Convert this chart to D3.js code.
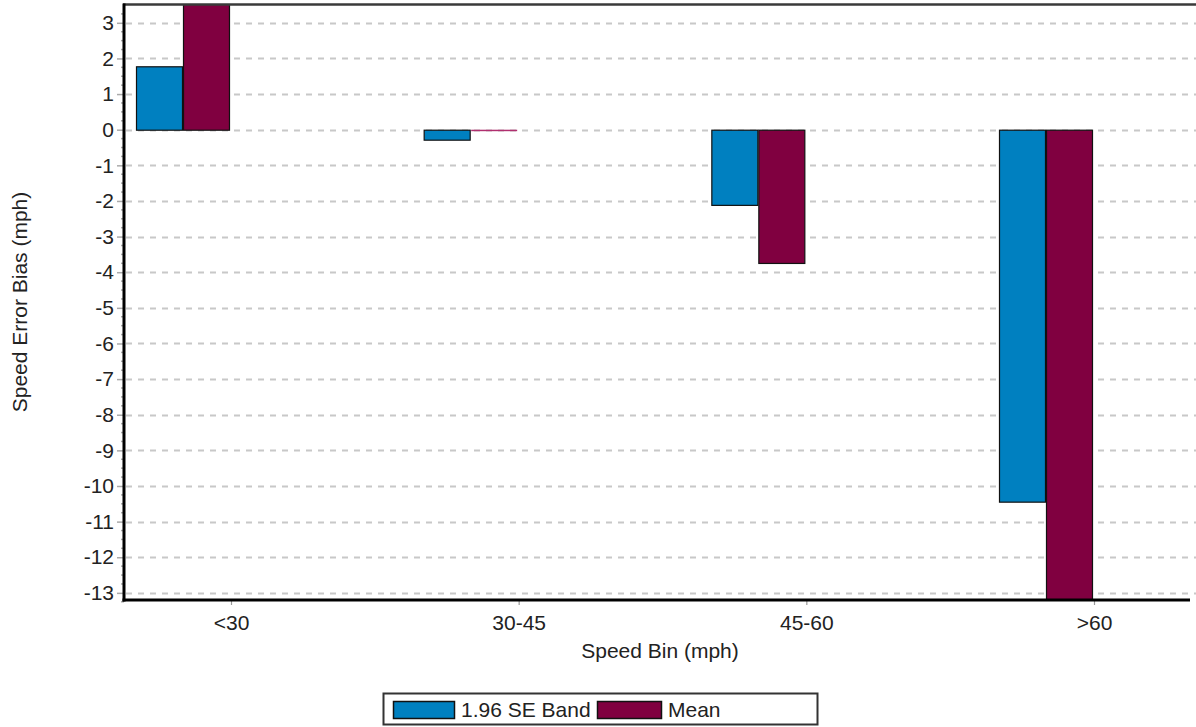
<!DOCTYPE html>
<html><head><meta charset="utf-8">
<script src="https://cdn.jsdelivr.net/npm/d3@7"></script>
<style>
html,body{margin:0;padding:0;background:#fff;}
svg{display:block;font-family:"Liberation Sans",Arial,sans-serif;}
</style></head>
<body>
<svg id="chart" width="1196" height="727"></svg>
<script>
const categories = ["<30", "30-45", "45-60", ">60"];
const seriesNames = ["1.96 SE Band", "Mean"];
const bandValues = [1.78, -0.28, -2.11, -10.44];
const meanValues = [4.2, -0.04, -3.74, -14.5];
const yTicks = [3,2,1,0,-1,-2,-3,-4,-5,-6,-7,-8,-9,-10,-11,-12,-13];
const colors = ["#0080c0", "#800040"];

const FS = 21;
const svg = d3.select("#chart");
const L = 124, R = 1196, T = 5, B = 600;

const y = d3.scaleLinear().domain([-13.2, 3.5]).range([B, T]);
const xTick = d3.scalePoint().domain(categories).range([231, 1094]);
const xs = d3.scaleBand().domain(seriesNames).range([-95, -1]);

// gridlines
svg.append("g").selectAll("line").data(yTicks).join("line")
  .attr("x1", L + 2).attr("x2", R)
  .attr("y1", d => Math.round(y(d)) + 0.5).attr("y2", d => Math.round(y(d)) + 0.5)
  .attr("stroke", "#c8c8c8").attr("stroke-width", 2).attr("stroke-dasharray", "6,6");

// clip
svg.append("clipPath").attr("id", "plotclip").append("rect")
  .attr("x", L).attr("y", T).attr("width", R - L).attr("height", B - T);

const rows = categories.map((c, i) => ({c, vals: [bandValues[i], meanValues[i]]}));
const bars = svg.append("g").attr("clip-path", "url(#plotclip)");
rows.forEach(r => {
  r.vals.forEach((v, j) => {
    const y0 = y(0), y1 = y(v);
    const top = Math.min(y0, y1), h = Math.abs(y1 - y0);
    const tiny = h < 3;
    bars.append("rect")
      .attr("x", xTick(r.c) + xs(seriesNames[j]) + 0.5)
      .attr("y", top + (tiny ? 0 : 0.5))
      .attr("width", xs.bandwidth() - 1)
      .attr("height", tiny ? Math.max(h, 1.5) : h)
      .attr("fill", tiny ? "#b0306f" : colors[j])
      .attr("stroke", tiny ? "none" : "#111")
      .attr("stroke-width", 1.2);
  });
});

// top border
svg.append("line").attr("x1", L - 1).attr("x2", R).attr("y1", T - 0.5).attr("y2", T - 0.5)
  .attr("stroke", "#3a3a3a").attr("stroke-width", 2.5);

// y axis
const yAxis = d3.axisLeft(y).tickValues(yTicks).tickSize(7).tickPadding(3).tickFormat(d => String(d));
const yg = svg.append("g").attr("transform", `translate(${L},0)`).call(yAxis);
yg.select(".domain").remove();
yg.selectAll(".tick line").attr("stroke", "#aaa").attr("stroke-width", 1.5);
yg.selectAll(".tick text").attr("font-size", FS).attr("fill", "#222")
  .attr("font-family", "Liberation Sans, Arial, sans-serif");
// minor ticks
const minor = d3.range(-13.25, 3.5, 0.25).filter(v => Math.abs(v - Math.round(v)) > 0.01);
svg.append("g").selectAll("line").data(minor).join("line")
  .attr("x1", L - 3).attr("x2", L)
  .attr("y1", d => y(d)).attr("y2", d => y(d))
  .attr("stroke", "#aaa").attr("stroke-width", 1.5);
svg.append("line").attr("x1", L).attr("x2", L).attr("y1", T - 1.5).attr("y2", B + 1.5)
  .attr("stroke", "#000").attr("stroke-width", 3);

// x axis
const xAxis = d3.axisBottom(xTick).tickSize(5).tickPadding(10);
const xg = svg.append("g").attr("transform", `translate(0,${B})`).call(xAxis);
xg.select(".domain").remove();
xg.selectAll(".tick line").attr("stroke", "#999").attr("stroke-width", 1.2);
xg.selectAll(".tick text").attr("font-size", FS).attr("fill", "#222")
  .attr("font-family", "Liberation Sans, Arial, sans-serif");
svg.append("line").attr("x1", L - 1.5).attr("x2", 1190).attr("y1", B).attr("y2", B)
  .attr("stroke", "#000").attr("stroke-width", 3);

// axis titles
svg.append("text").attr("x", 660).attr("y", 658).attr("text-anchor", "middle")
  .attr("font-size", FS).attr("fill", "#222").text("Speed Bin (mph)");
svg.append("text").attr("transform", "translate(27,302) rotate(-90)").attr("text-anchor", "middle")
  .attr("font-size", FS).attr("fill", "#222").text("Speed Error Bias (mph)");

// legend
const lg = svg.append("g");
lg.append("rect").attr("x", 383.5).attr("y", 693.5).attr("width", 434).attr("height", 31)
  .attr("fill", "#fff").attr("stroke", "#333").attr("stroke-width", 2);
const legendItems = [{x: 393, w: 61, tx: 461}, {x: 597, w: 64, tx: 668}];
seriesNames.forEach((s, i) => {
  const it = legendItems[i];
  lg.append("rect").attr("x", it.x + 0.5).attr("y", 701.5).attr("width", it.w).attr("height", 17)
    .attr("fill", colors[i]).attr("stroke", "#111").attr("stroke-width", 1.5);
  lg.append("text").attr("x", it.tx).attr("y", 717).attr("font-size", FS).attr("fill", "#222").text(s);
});
</script>
</body></html>
